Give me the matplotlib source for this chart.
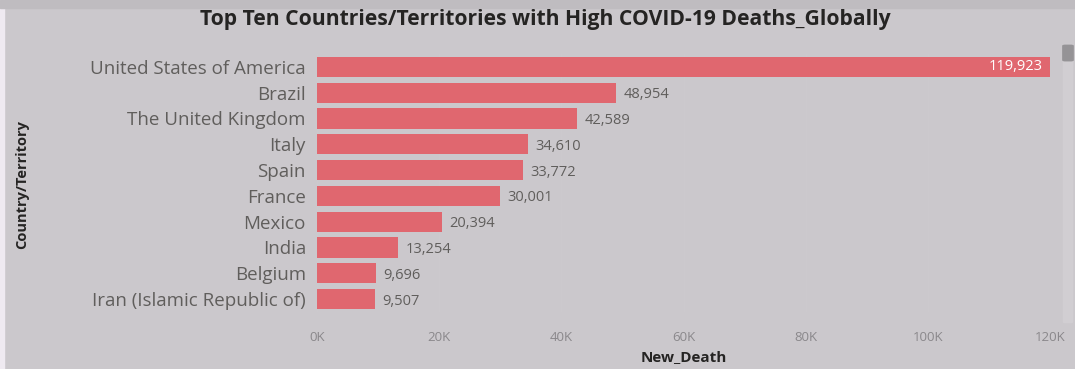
import matplotlib.pyplot as plt
from matplotlib.patches import Rectangle, FancyBboxPatch

# data
countries = ["United States of America", "Brazil", "The United Kingdom", "Italy", "Spain",
             "France", "Mexico", "India", "Belgium", "Iran (Islamic Republic of)"]
deaths = [119923, 48954, 42589, 34610, 33772, 30001, 20394, 13254, 9696, 9507]
tick_vals = [0, 20000, 40000, 60000, 80000, 100000, 120000]
tick_labels = ["0K", "20K", "40K", "60K", "80K", "100K", "120K"]

bg = "#cbc8cc"
bar_col = "#e0676f"
txt_gray = "#605e5c"
dark = "#252423"

plt.rcParams['font.family'] = ['Open Sans', 'DejaVu Sans']

fig = plt.figure(figsize=(10.75, 3.69), dpi=100, facecolor=bg)
ax = fig.add_axes([317 / 1075, 1 - 312 / 369, 733 / 1075, 258 / 369], facecolor=bg)

# frame bits round the visual
fig.patches.append(Rectangle((0, 0), 4 / 1075, 1, transform=fig.transFigure,
                             color="#efeaf1", zorder=0))
fig.patches.append(Rectangle((0, 1 - 8 / 369), 1, 8 / 369, transform=fig.transFigure,
                             color="#bfbcc0", zorder=0))
fig.patches.append(Rectangle((1063 / 1075, 1 - 322 / 369), 9 / 1075, 278 / 369,
                             transform=fig.transFigure, color="#d1ced2", zorder=0))
fig.patches.append(FancyBboxPatch((1065 / 1075, 1 - 60 / 369), 6 / 1075, 14 / 369,
                                  boxstyle="round,pad=0.002", transform=fig.transFigure,
                                  color="#959396", zorder=1))

y = list(range(len(countries)))
ax.barh(y, deaths, height=0.78, color=bar_col, zorder=2)
ax.set_ylim(9.5, -0.5)
ax.set_xlim(0, 120000)

for i, v in enumerate(deaths):
    lab = f"{v:,}"
    if v > 100000:
        ax.text(v - 1200, i, lab, va="center", ha="right", color="white", fontsize=10.5, zorder=3)
    else:
        ax.text(v + 1200, i + 0.08, lab, va="center", ha="left", color=txt_gray, fontsize=10.5, zorder=3)

ax.set_yticks(y)
ax.set_yticklabels(countries, fontsize=13.5, color=txt_gray)
ax.set_xticks(tick_vals)
ax.set_xticklabels(tick_labels, fontsize=9.5, color="#8a888b")
ax.tick_params(axis="both", length=0)
ax.tick_params(axis="x", pad=14)
ax.tick_params(axis="y", pad=8)

ax.grid(axis="x", color="#ccc9cd", linewidth=0.8, zorder=0)
for s in ax.spines.values():
    s.set_visible(False)

ax.set_xlabel("New_Death", fontsize=11, fontweight="bold", color=dark, labelpad=4)
fig.text(22 / 1075, 1 - 185 / 369, "Country/Territory", rotation=90, ha="center", va="center",
         fontsize=10.5, fontweight="bold", color=dark)
fig.text(545 / 1075, 1 - 19 / 369, "Top Ten Countries/Territories with High COVID-19 Deaths_Globally",
         ha="center", va="center", fontsize=15.2, fontweight="bold", color=dark)

fig.savefig("out.png", dpi=100, facecolor=bg)
